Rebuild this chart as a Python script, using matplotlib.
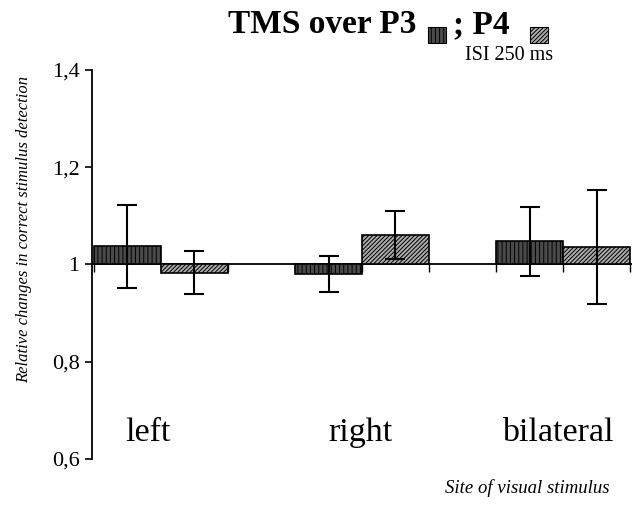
import matplotlib
matplotlib.use("Agg")
import matplotlib.pyplot as plt
from matplotlib.patches import Rectangle
import numpy as np

plt.rcParams['hatch.linewidth'] = 0.7

categories = ["left", "right", "bilateral"]
p3_values = [1.037, 0.980, 1.048]
p3_err = [0.085, 0.037, 0.071]
p4_values = [0.983, 1.060, 1.036]
p4_err = [0.044, 0.049, 0.118]
y_ticks = [0.6, 0.8, 1.0, 1.2, 1.4]
y_tick_labels = ["0,6", "0,8", "1", "1,2", "1,4"]

serif = "Liberation Serif"
P3_FACE, P3_HATCH = "#4a4a4a", "||||"
P4_FACE, P4_HATCH = "#ababab", "////////"

fig = plt.figure(figsize=(6.38, 5.07), dpi=100)
ax = fig.add_axes([0.1442, 0.0947, 0.8464, 0.7673])

x = np.arange(len(categories))
w = 0.333
base = 1.0
p3_h = [v - base for v in p3_values]
p4_h = [v - base for v in p4_values]

ax.bar(x - w / 2, p3_h, w, bottom=base, facecolor=P3_FACE, edgecolor="black",
       hatch=P3_HATCH, linewidth=1.2, zorder=2)
ax.bar(x + w / 2, p4_h, w, bottom=base, facecolor=P4_FACE, edgecolor="black",
       hatch=P4_HATCH, linewidth=1.2, zorder=2)
ax.errorbar(x - w / 2, p3_values, yerr=p3_err, fmt="none", ecolor="black",
            elinewidth=1.5, capsize=7, capthick=1.5, zorder=3)
ax.errorbar(x + w / 2, p4_values, yerr=p4_err, fmt="none", ecolor="black",
            elinewidth=1.5, capsize=7, capthick=1.5, zorder=3)

ax.axhline(base, color="black", linewidth=1.3, zorder=1)
# small tick marks at category/bar boundaries below the baseline
edges = np.concatenate([x - w, x, x + w])
ax.vlines(edges, base - 0.015, base, colors="black", linewidth=1.0, zorder=1)

ax.set_xlim(-0.343, 2.343)
ax.set_ylim(0.6, 1.4)
ax.set_yticks(y_ticks)
ax.set_yticklabels(y_tick_labels, fontfamily=serif, fontsize=16)
ax.tick_params(axis="y", direction="out", length=5, width=1.2, pad=4)
ax.set_xticks([])
for s in ["top", "right", "bottom"]:
    ax.spines[s].set_visible(False)
ax.spines["left"].set_linewidth(1.3)

label_offsets = [-0.067, -0.007, -0.027]
for i, c in enumerate(categories):
    ax.text(i + label_offsets[i], 0.637, c, ha="center", va="baseline",
            fontfamily=serif, fontsize=24.5)

fig.text(0.037, 0.548, "Relative changes in correct stimulus detection",
         rotation=90, ha="center", va="center", fontfamily=serif,
         fontstyle="italic", fontsize=12)
fig.text(0.956, 0.0375, "Site of visual stimulus", ha="right", va="center",
         fontfamily=serif, fontstyle="italic", fontsize=13.5)

# Title with legend swatches
fig.text(228 / 638, 1 - 33 / 507, "TMS over P3", ha="left", va="baseline",
         fontfamily=serif, fontweight="bold", fontsize=24)
fig.text(453 / 638, 1 - 33 / 507, "; P4", ha="left", va="baseline",
         fontfamily=serif, fontweight="bold", fontsize=24)
fig.patches.append(Rectangle((428 / 638, 1 - 43 / 507), 18 / 638, 16 / 507,
                             transform=fig.transFigure, facecolor=P3_FACE,
                             edgecolor="black", hatch=P3_HATCH, linewidth=0.8))
fig.patches.append(Rectangle((530 / 638, 1 - 43 / 507), 18 / 638, 16 / 507,
                             transform=fig.transFigure, facecolor=P4_FACE,
                             edgecolor="black", hatch=P4_HATCH, linewidth=0.8))
fig.text(465 / 638, 1 - 55 / 507, "ISI 250 ms", ha="left", va="center",
         fontfamily=serif, fontsize=14.5)

fig.savefig("out.png", dpi=100)
